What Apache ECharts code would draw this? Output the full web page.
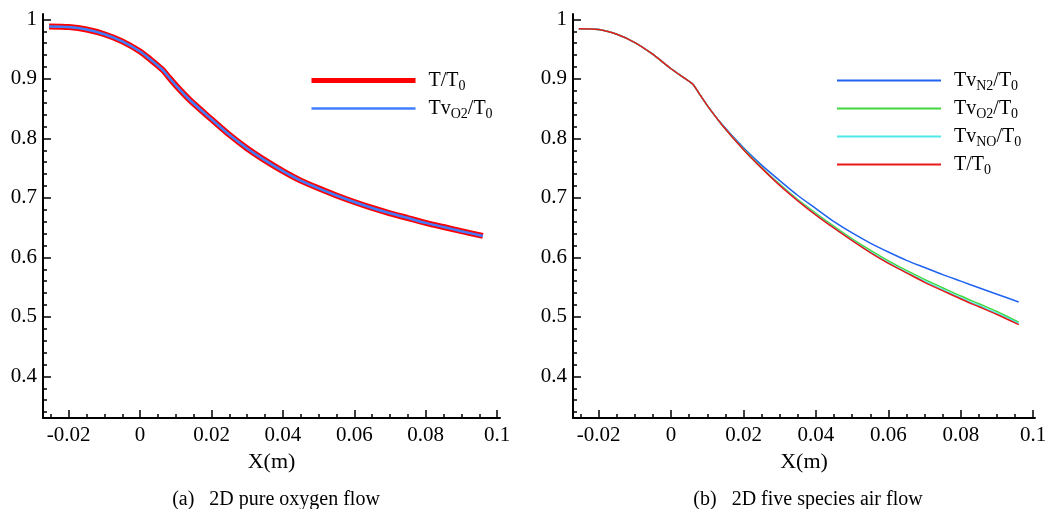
<!DOCTYPE html>
<html>
<head>
<meta charset="utf-8">
<script src="https://cdn.jsdelivr.net/npm/echarts@6/dist/echarts.min.js"></script>
<style>
  html, body { margin: 0; padding: 0; background: #fff; }
  #chart { width: 1062px; height: 509px; }
</style>
</head>
<body>
<div id="chart"></div>
<script>
// tick positions shared by both panels
const xTicks = [-0.02, 0, 0.02, 0.04, 0.06, 0.08, 0.1]
const yTicks = [0.4, 0.5, 0.6, 0.7, 0.8, 0.9, 1]

// (a) pure oxygen
const xA = [-0.0255, -0.02, -0.015, -0.01, -0.005, 0, 0.003, 0.005, 0.0065, 0.008, 0.01, 0.014, 0.02, 0.025, 0.03, 0.035, 0.04, 0.045, 0.05, 0.055, 0.06, 0.065, 0.07, 0.075, 0.08, 0.085, 0.09, 0.096]
const tA = [0.988, 0.987, 0.983, 0.975, 0.963, 0.946, 0.932, 0.922, 0.914, 0.903, 0.889, 0.864, 0.832, 0.806, 0.783, 0.763, 0.745, 0.729, 0.716, 0.704, 0.693, 0.683, 0.674, 0.666, 0.658, 0.651, 0.644, 0.636]
const tvO2A = [0.988, 0.987, 0.983, 0.975, 0.963, 0.946, 0.932, 0.922, 0.914, 0.903, 0.889, 0.864, 0.832, 0.806, 0.783, 0.763, 0.745, 0.729, 0.716, 0.704, 0.693, 0.683, 0.674, 0.666, 0.658, 0.651, 0.644, 0.636]

// (b) five species air
const xB = [-0.0255, -0.02, -0.015, -0.01, -0.005, 0, 0.004, 0.006, 0.008, 0.01, 0.014, 0.02, 0.025, 0.03, 0.035, 0.04, 0.045, 0.05, 0.055, 0.06, 0.065, 0.07, 0.075, 0.08, 0.085, 0.09, 0.096]
const tvN2B = [0.984, 0.983, 0.975, 0.961, 0.941, 0.917, 0.9, 0.891, 0.873, 0.855, 0.824, 0.784, 0.755, 0.729, 0.704, 0.682, 0.66, 0.641, 0.624, 0.609, 0.595, 0.583, 0.571, 0.56, 0.549, 0.538, 0.525]
const tvO2B = [0.984, 0.983, 0.975, 0.961, 0.941, 0.917, 0.9, 0.891, 0.873, 0.855, 0.823, 0.782, 0.751, 0.723, 0.697, 0.674, 0.652, 0.631, 0.612, 0.594, 0.578, 0.563, 0.549, 0.535, 0.522, 0.509, 0.491]
const tvNOB = [0.984, 0.983, 0.975, 0.961, 0.941, 0.917, 0.9, 0.891, 0.873, 0.855, 0.823, 0.781, 0.75, 0.722, 0.696, 0.672, 0.65, 0.629, 0.609, 0.591, 0.575, 0.56, 0.546, 0.532, 0.519, 0.506, 0.489]
const tB = [0.984, 0.983, 0.975, 0.961, 0.941, 0.917, 0.9, 0.891, 0.873, 0.855, 0.823, 0.781, 0.75, 0.721, 0.695, 0.671, 0.649, 0.628, 0.608, 0.59, 0.574, 0.558, 0.544, 0.53, 0.517, 0.504, 0.487]

const FONT = "'Liberation Serif', 'DejaVu Serif', serif"
const pairs = (xs, ys) => xs.map((x, i) => [x, ys[i]])

const rich = {
  a: { fontFamily: FONT, fontSize: 20, color: '#000', lineHeight: 22 },
  s: { fontFamily: FONT, fontSize: 14, color: '#000', lineHeight: 14, padding: [11, 0, 0, 0] },
}
const legendNames = {
  'T/T0': '{a|T/T}{s|0}',
  'TvO2/T0': '{a|Tv}{s|O2}{a|/T}{s|0}',
  'TvN2/T0': '{a|Tv}{s|N2}{a|/T}{s|0}',
  'TvNO/T0': '{a|Tv}{s|NO}{a|/T}{s|0}',
}

function xAxis(gridIndex, min, max) {
  return {
    type: 'value', gridIndex, min, max, splitNumber: 6,
    name: 'X(m)', nameLocation: 'middle', nameGap: 33,
    nameTextStyle: { fontFamily: FONT, fontSize: 22, color: '#000' },
    axisLine: { onZero: false, lineStyle: { color: '#000', width: 2 } },
    axisTick: { inside: true, length: 8, customValues: xTicks, lineStyle: { color: '#000', width: 1.5 } },
    minorTick: { show: true, splitNumber: 4, length: 4, lineStyle: { color: '#000', width: 1.5 } },
    axisLabel: {
      customValues: xTicks, margin: 7, fontFamily: FONT, fontSize: 21, color: '#000',
      formatter: (v) => String(+v.toFixed(2)),
    },
    splitLine: { show: false },
  }
}

function yAxis(gridIndex) {
  return {
    type: 'value', gridIndex, min: 0.33, max: 1.009, splitNumber: 7,
    axisLine: { onZero: false, lineStyle: { color: '#000', width: 2 } },
    axisTick: { inside: true, length: 8, customValues: yTicks, lineStyle: { color: '#000', width: 1.5 } },
    minorTick: { show: true, splitNumber: 5, length: 4, lineStyle: { color: '#000', width: 1.5 } },
    axisLabel: {
      customValues: yTicks, margin: 6, fontFamily: FONT, fontSize: 21, color: '#000',
      formatter: (v) => String(+v.toFixed(1)),
    },
    splitLine: { show: false },
  }
}

function line(name, xi, xs, ys, color, width, z) {
  return {
    name, type: 'line', xAxisIndex: xi, yAxisIndex: xi,
    data: pairs(xs, ys), showSymbol: false, symbol: 'none', smooth: 0.25,
    lineStyle: { color, width }, itemStyle: { color }, z, animation: false,
  }
}

const legendItem = (name, width) => ({ name, lineStyle: { width } })

const chart = echarts.init(document.getElementById('chart'), null, { renderer: 'canvas' })
chart.setOption({
  backgroundColor: '#fff',
  animation: false,
  textStyle: { fontFamily: FONT },
  grid: [
    { left: 43, right: 562, top: 14, bottom: 91 },
    { left: 573, right: 27, top: 14, bottom: 91 },
  ],
  xAxis: [xAxis(0, -0.0272, 0.1008), xAxis(1, -0.0271, 0.1005)],
  yAxis: [yAxis(0), yAxis(1)],
  title: [
    { text: '(a)\u2002 2D pure oxygen flow', left: 271, top: 485, textAlign: 'center',
      textStyle: { fontFamily: FONT, fontSize: 20, fontWeight: 'normal', color: '#000' } },
    { text: '(b)\u2002 2D five species air flow', left: 803, top: 485, textAlign: 'center',
      textStyle: { fontFamily: FONT, fontSize: 20, fontWeight: 'normal', color: '#000' } },
  ],
  legend: [
    {
      data: [legendItem('T/T0', 5), legendItem('TvO2/T0', 2.5)], left: 304, top: 63, orient: 'vertical',
      itemWidth: 104, itemHeight: 14, itemGap: 3, itemStyle: { opacity: 0 },
      formatter: (n) => legendNames[n], textStyle: { rich, padding: [0, 0, 0, 8] },
    },
    {
      data: [legendItem('TvN2/T0', 2), legendItem('TvO2/T0 ', 2), legendItem('TvNO/T0', 2), legendItem('T/T0 ', 2)],
      left: 831, top: 63, orient: 'vertical',
      itemWidth: 104, itemHeight: 14, itemGap: 3, itemStyle: { opacity: 0 },
      formatter: (n) => legendNames[n.trim()], textStyle: { rich, padding: [0, 0, 0, 8] },
    },
  ],
  series: [
    line('T/T0', 0, xA, tA, '#ff0000', 6, 2),
    line('TvO2/T0', 0, xA, tvO2A, '#3f7fff', 2.5, 3),
    line('TvN2/T0', 1, xB, tvN2B, '#1f63f0', 1.5, 2),
    line('TvO2/T0 ', 1, xB, tvO2B, '#3fd83f', 1.5, 3),
    line('TvNO/T0', 1, xB, tvNOB, '#4fe8e8', 1.5, 4),
    line('T/T0 ', 1, xB, tB, '#e81818', 1.5, 5),
  ],
})
</script>
</body>
</html>
